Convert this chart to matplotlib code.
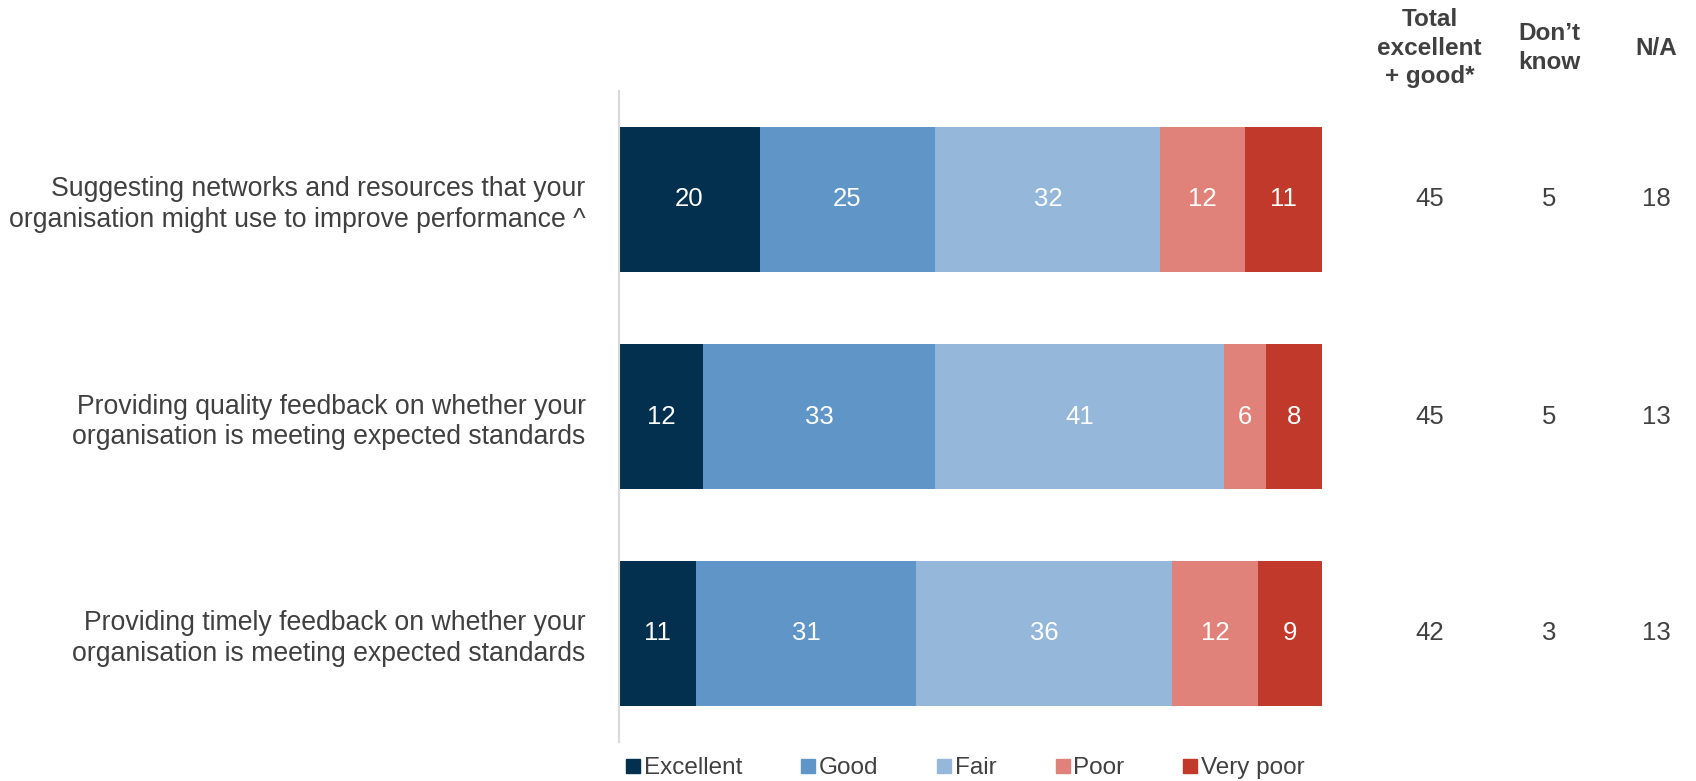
import matplotlib
matplotlib.use("Agg")
import matplotlib.pyplot as plt
from matplotlib.lines import Line2D
import numpy as np

plt.rcParams['font.family'] = ['Liberation Sans', 'DejaVu Sans']

# data (last row)
categories = [
    "Suggesting networks and resources that your\norganisation might use to improve performance ^",
    "Providing quality feedback on whether your\norganisation is meeting expected standards",
    "Providing timely feedback on whether your\norganisation is meeting expected standards",
]
series = ["Excellent", "Good", "Fair", "Poor", "Very poor"]
excellent = [20, 12, 10.9]
good = [25, 33, 31.4]
fair = [32, 41, 36.4]
poor = [12, 6, 12.2]
very_poor = [11, 8, 9.1]
total_exc_good = [45, 45, 42]
dont_know = [5, 5, 3]
na = [18, 13, 13]
headers = ["Total\nexcellent\n+ good*", "Don\u2019t\nknow", "N/A"]

colors = ["#03304F", "#6096C7", "#95B8DA", "#E0827A", "#C0392B"]
text_col = "#404040"

W, H = 1696, 781
fig = plt.figure(figsize=(W / 100, H / 100), dpi=100)
ax = fig.add_axes([619 / W, 1 - 742 / H, (1322 - 619) / W, 651 / H])

y = np.arange(len(categories))
left = np.zeros(len(categories))
for name, vals, c in zip(series, [excellent, good, fair, poor, very_poor], colors):
    vals = np.array(vals)
    ax.barh(y, vals, left=left, height=0.667, color=c, label=name)
    for yi, l, v in zip(y, left, vals):
        ax.text(l + v / 2, yi, f"{v:.0f}", ha="center", va="center",
                color="white", fontsize=18.5)
    left += vals

ax.set_xlim(0, 100)
ax.set_ylim(2.5, -0.5)
ax.set_xticks([])
ax.set_yticks(y)
ax.set_yticklabels(categories, fontsize=19.2, color=text_col, linespacing=1.22)
ax.tick_params(axis="y", length=0, pad=24)
for s in ["top", "right", "bottom"]:
    ax.spines[s].set_visible(False)
ax.spines["left"].set_color("#D9D9D9")
ax.spines["left"].set_linewidth(1.5)

# extra columns on the right
col_x = [115.3, 132.3, 147.6]
for cx, vals, hdr in zip(col_x, [total_exc_good, dont_know, na], headers):
    for yi, v in zip(y, vals):
        ax.text(cx, yi, str(v), ha="center", va="center", fontsize=18.5,
                color=text_col, clip_on=False)
    ax.text(cx, 1.066, hdr, transform=ax.get_xaxis_transform(), ha="center",
            va="center", fontsize=17.5, fontweight="bold", color=text_col,
            linespacing=1.32, clip_on=False)

handles = [Line2D([], [], marker="s", linestyle="none", markersize=10,
                  color=c) for c in colors]
fig.legend(handles, series, loc="center", bbox_to_anchor=(966 / W, 1 - 768 / H),
           ncol=5, frameon=False, fontsize=17.5, handlelength=0.5,
           handletextpad=0.2, columnspacing=2.45, labelcolor=text_col)

fig.savefig("out.png", dpi=100)
